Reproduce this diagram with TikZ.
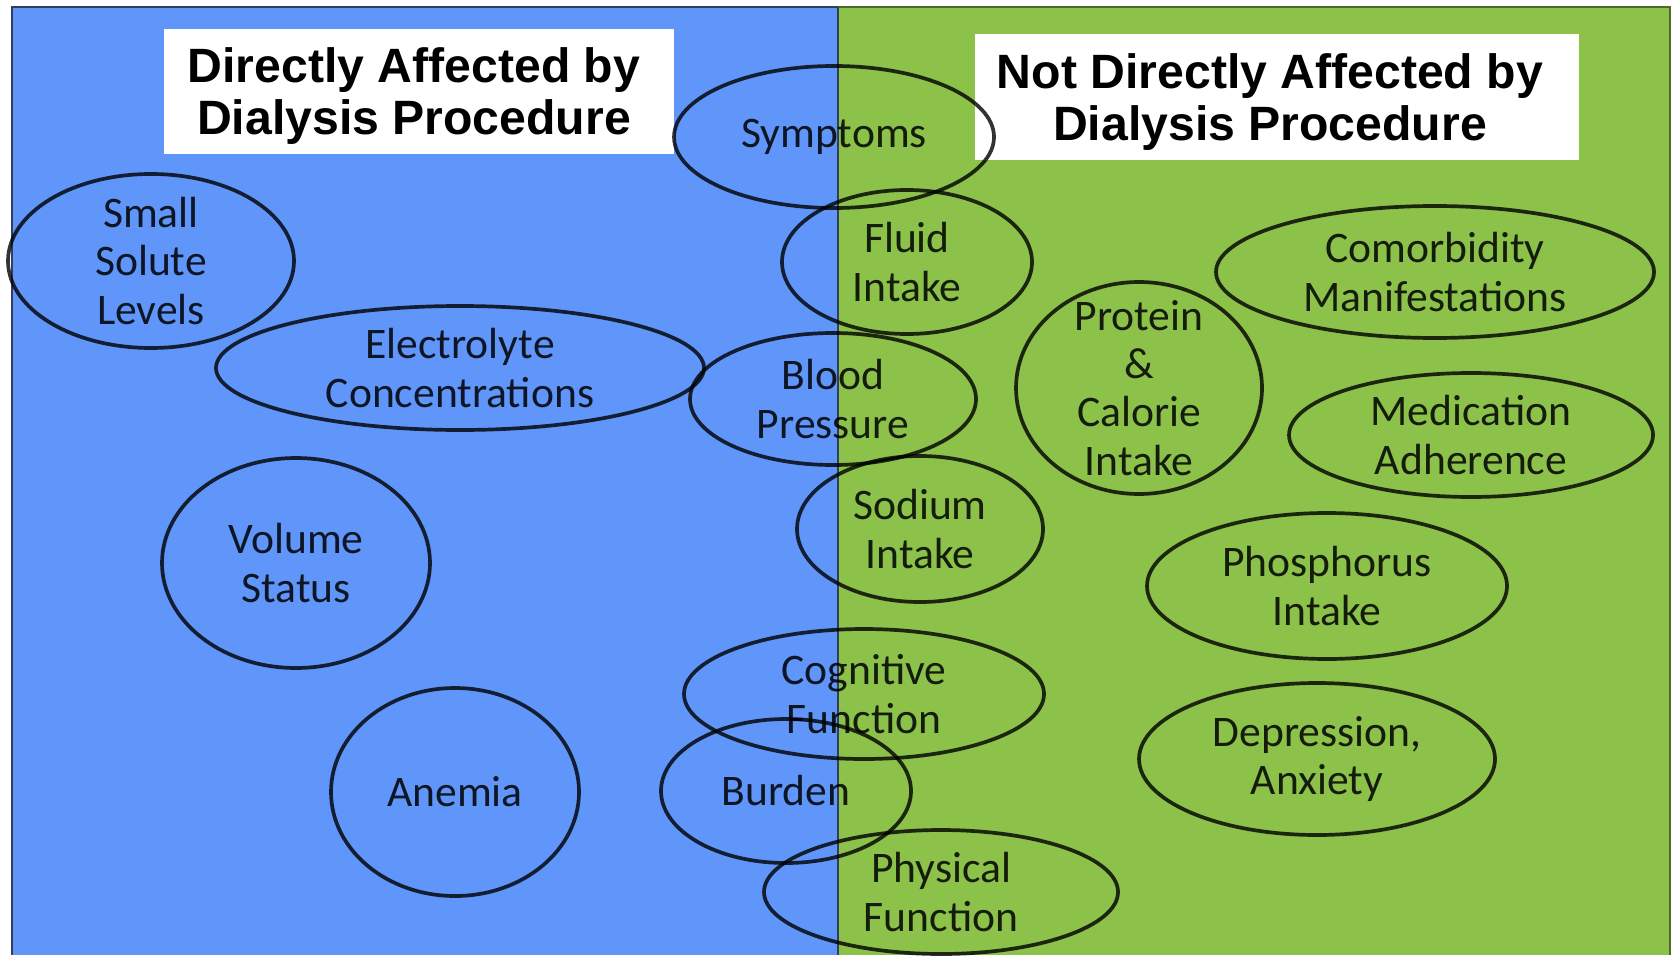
\documentclass[tikz,border=0pt]{standalone}
\usepackage{fontspec}
\setmainfont{Carlito}
\newfontfamily\headfont{Liberation Sans}
\definecolor{dialblue}{RGB}{96,150,250}
\definecolor{dialgreen}{RGB}{140,193,74}
\definecolor{frameline}{RGB}{50,62,90}
\begin{document}
\begin{tikzpicture}[x=0.01cm, y=-0.01cm,
		ring/.style={draw=black, draw opacity=0.8, line width=1.05pt},
		item/.style={align=center, inner sep=0pt, text=black, text opacity=0.85, font=\fontsize{12.4}{13.7}\selectfont},
		titlebox/.style={fill=white, align=center, inner sep=0pt, font=\headfont\bfseries\fontsize{13.7}{14.6}\selectfont}]
			\useasboundingbox (0,0) rectangle (1677,955);
			% two halves
			\fill[dialblue] (12,7) rectangle (838,955);
			\fill[dialgreen] (838,7) rectangle (1670,955);
			\draw[frameline, line width=0.7pt] (12,955) -- (12,7) -- (838,7);
			\draw[black!45!dialgreen, line width=0.6pt] (838,7) -- (1670,7) -- (1670,955);
			\draw[frameline, line width=0.5pt] (838,7) -- (838,955);
			% headings
			\node[titlebox, minimum width=510*0.01cm, minimum height=125*0.01cm] (direct) at (419,92) {};
			\node[titlebox] (directtxt) at (414,96) {Directly Affected by\\Dialysis Procedure};
			\node[titlebox, minimum width=604*0.01cm, minimum height=126*0.01cm] (notdirect) at (1277,97) {};
			\node[titlebox] (notdirecttxt) at (1270,102) {Not Directly Affected by\\Dialysis Procedure};
			% outcomes
			\node[item] (solute) at (151,261) {Small\\Solute\\Levels};
			\draw[ring] (solute) ellipse [x radius=143, y radius=87];
			\node[item] (elec) at (460,368) {Electrolyte\\Concentrations};
			\draw[ring] (elec) ellipse [x radius=244, y radius=62];
			\node[item] (volume) at (296,563) {Volume\\Status};
			\draw[ring] (volume) ellipse [x radius=134, y radius=105];
			\node[item] (anemia) at (455,792) {Anemia};
			\draw[ring] (anemia) ellipse [x radius=124, y radius=104];
			\node[item] (symptoms) at (834,137) {Symptoms};
			\draw[ring] (symptoms) ellipse [x radius=160, y radius=71];
			\node[item] (fluid) at (907,262) {Fluid\\Intake};
			\draw[ring] (fluid) ellipse [x radius=125, y radius=72];
			\node[item] (bp) at (833,399) {Blood\\Pressure};
			\draw[ring] (bp) ellipse [x radius=143, y radius=66];
			\node[item] (sodium) at (920,529) {Sodium\\Intake};
			\draw[ring] (sodium) ellipse [x radius=123, y radius=73];
			\node[item] (cognitive) at (864,694) {Cognitive\\Function};
			\draw[ring] (cognitive) ellipse [x radius=180, y radius=65];
			\node[item] (burden) at (786,791) {Burden};
			\draw[ring] (burden) ellipse [x radius=125, y radius=72];
			\node[item] (physical) at (941,892) {Physical\\Function};
			\draw[ring] (physical) ellipse [x radius=177, y radius=62];
			\node[item] (protein) at (1139,388) {Protein\\\&\\Calorie\\Intake};
			\draw[ring] (protein) ellipse [x radius=123, y radius=106];
			\node[item] (comorb) at (1435,272) {Comorbidity\\Manifestations};
			\draw[ring] (comorb) ellipse [x radius=219, y radius=66];
			\node[item] (medication) at (1471,435) {Medication\\Adherence};
			\draw[ring] (medication) ellipse [x radius=182, y radius=62];
			\node[item] (phosphorus) at (1327,586) {Phosphorus\\Intake};
			\draw[ring] (phosphorus) ellipse [x radius=180, y radius=73];
			\node[item] (depression) at (1317,759) {Depression,\\Anxiety};
			\draw[ring] (depression) ellipse [x radius=178, y radius=76];
		\end{tikzpicture}
\end{document}
